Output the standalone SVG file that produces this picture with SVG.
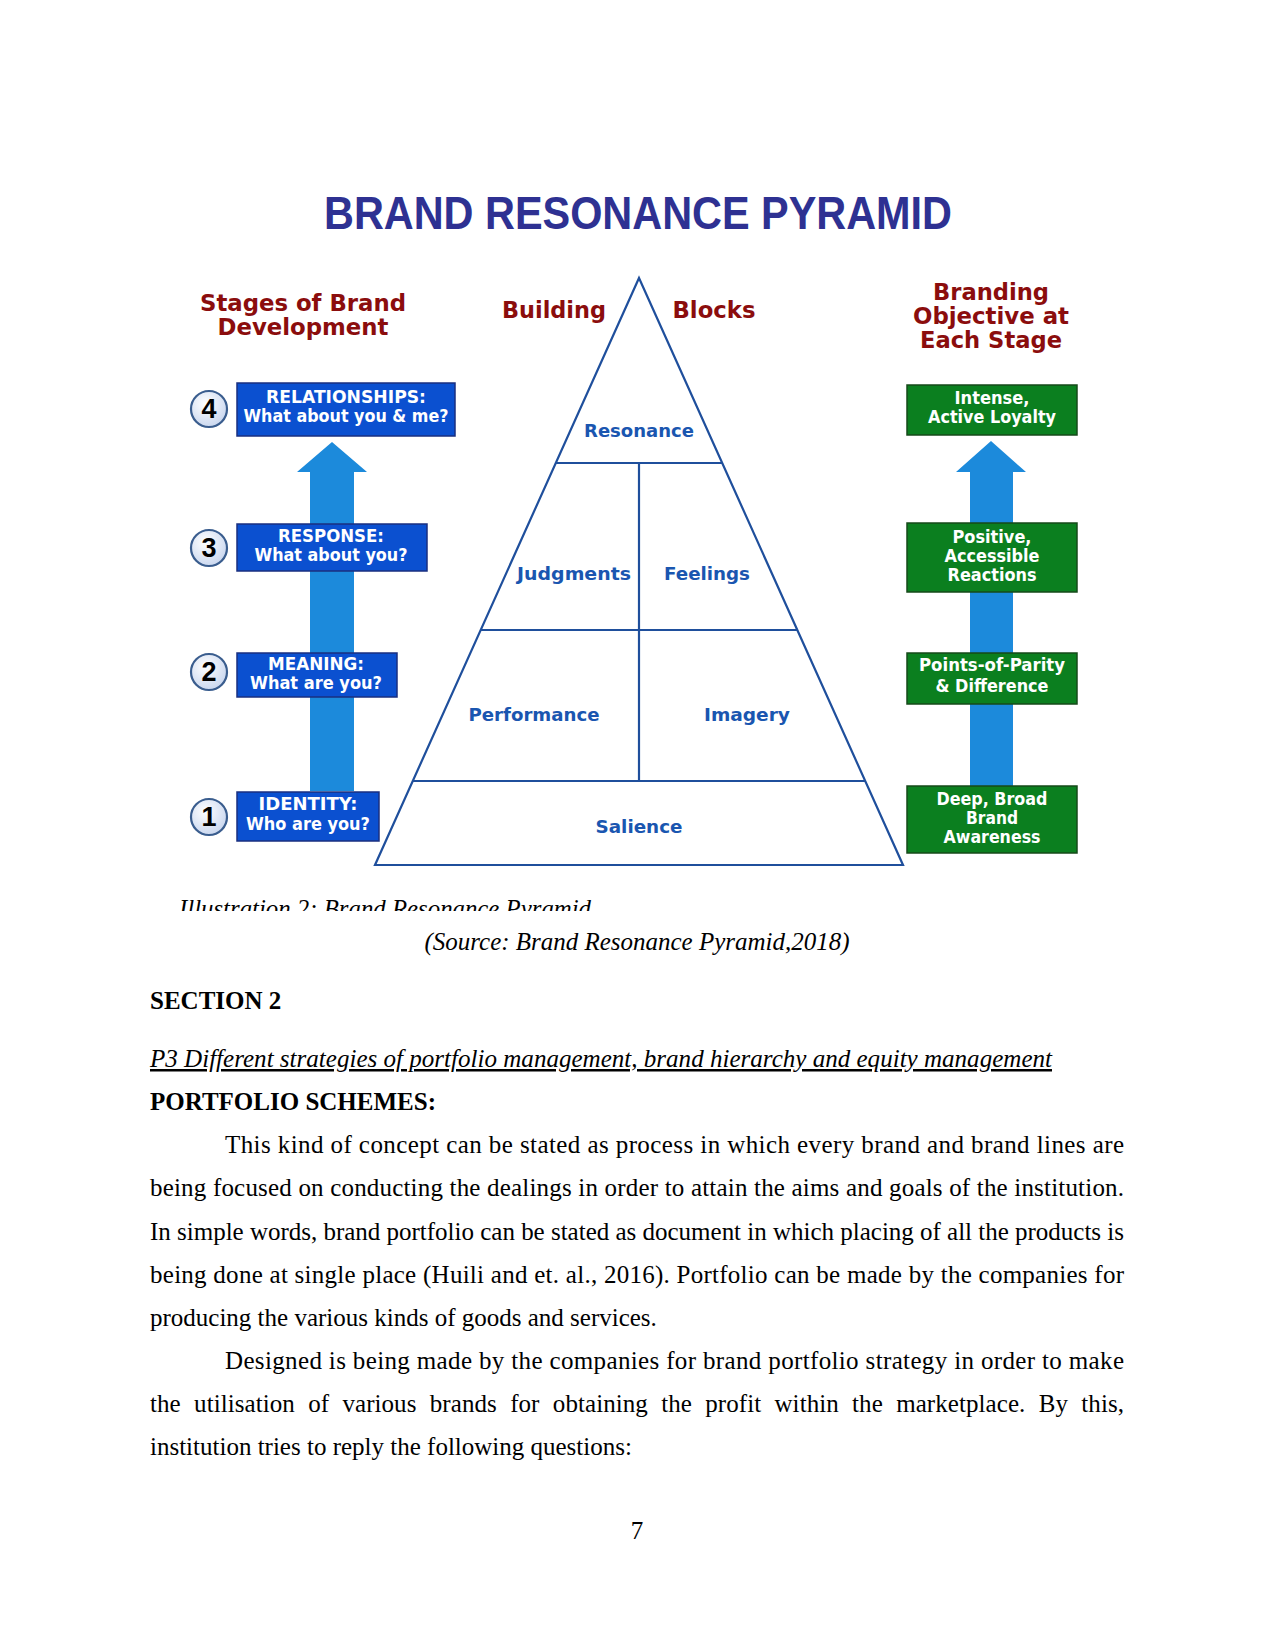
<svg xmlns="http://www.w3.org/2000/svg" width="1275" height="1650" viewBox="0 0 1275 1650">
<defs>
<radialGradient id="cg" cx="0.4" cy="0.35" r="0.7">
<stop offset="0" stop-color="#ffffff"/>
<stop offset="1" stop-color="#c7d5ee"/>
</radialGradient>
<clipPath id="capclip"><rect x="0" y="880" width="1275" height="31"/></clipPath>
</defs>
<style>
.title{font-family:"Liberation Sans",Arial,sans-serif;font-weight:bold;font-size:46px;fill:#2e3192}
.hdr{font-family:"DejaVu Sans",Verdana,sans-serif;font-weight:bold;font-size:23px;fill:#8b0d0d}
.lvl{font-family:"DejaVu Sans",Verdana,sans-serif;font-weight:bold;font-size:17px;fill:#1a56b0}
.bx{font-family:"DejaVu Sans",Verdana,sans-serif;font-weight:bold;font-size:17px;fill:#ffffff}
.blue{fill:#0b50d0;stroke:#1a2f80;stroke-width:1.5}
.green{fill:#0b7f1f;stroke:#164a1a;stroke-width:1.5}
.circ{fill:url(#cg);stroke:#3a5d8e;stroke-width:2.2}
.num{font-family:"Liberation Sans",Arial,sans-serif;font-weight:bold;font-size:27px;fill:#000}
.pyr{fill:none;stroke:#1f4f9c;stroke-width:2.2}
.arrow{fill:#1c8adb}
.body{font-family:"Liberation Serif","Times New Roman",serif;font-size:25px;fill:#000}
</style>
<rect width="1275" height="1650" fill="#ffffff"/>

<text class="title" x="638" y="229" text-anchor="middle" textLength="628" lengthAdjust="spacingAndGlyphs">BRAND RESONANCE PYRAMID</text>

<g id="headers">
<text class="hdr" x="303" y="311" text-anchor="middle" textLength="206" lengthAdjust="spacingAndGlyphs">Stages of Brand</text>
<text class="hdr" x="303" y="335" text-anchor="middle" textLength="171" lengthAdjust="spacingAndGlyphs">Development</text>
<text class="hdr" x="554" y="318" text-anchor="middle" textLength="104" lengthAdjust="spacingAndGlyphs">Building</text>
<text class="hdr" x="714" y="318" text-anchor="middle" textLength="83" lengthAdjust="spacingAndGlyphs">Blocks</text>
<text class="hdr" x="991" y="300" text-anchor="middle" textLength="116" lengthAdjust="spacingAndGlyphs">Branding</text>
<text class="hdr" x="991" y="324" text-anchor="middle" textLength="156" lengthAdjust="spacingAndGlyphs">Objective at</text>
<text class="hdr" x="991" y="348" text-anchor="middle" textLength="142" lengthAdjust="spacingAndGlyphs">Each Stage</text>
</g>

<g id="connectors">
<path class="arrow" d="M310,791 L310,472 L297,472 L332,442 L367,472 L354,472 L354,791 Z"/>
<path class="arrow" d="M970,786 L970,472 L956,472 L991,441 L1026,472 L1013,472 L1013,786 Z"/>
</g>

<g id="pyramid">
<path class="pyr" d="M639,278 L903,865 L375,865 Z"/>
<line class="pyr" x1="556" y1="463" x2="722" y2="463"/>
<line class="pyr" x1="481" y1="630" x2="797" y2="630"/>
<line class="pyr" x1="413" y1="781" x2="865" y2="781"/>
<line class="pyr" x1="639" y1="463" x2="639" y2="781"/>
</g>
<g id="resonance"><text class="lvl" x="639" y="437" text-anchor="middle" textLength="110" lengthAdjust="spacingAndGlyphs">Resonance</text></g>
<g id="judgments"><text class="lvl" x="574" y="580" text-anchor="middle" textLength="114" lengthAdjust="spacingAndGlyphs">Judgments</text></g>
<g id="feelings"><text class="lvl" x="707" y="580" text-anchor="middle" textLength="86" lengthAdjust="spacingAndGlyphs">Feelings</text></g>
<g id="performance"><text class="lvl" x="534" y="721" text-anchor="middle" textLength="131" lengthAdjust="spacingAndGlyphs">Performance</text></g>
<g id="imagery"><text class="lvl" x="747" y="721" text-anchor="middle" textLength="86" lengthAdjust="spacingAndGlyphs">Imagery</text></g>
<g id="salience"><text class="lvl" x="639" y="833" text-anchor="middle" textLength="87" lengthAdjust="spacingAndGlyphs">Salience</text></g>

<g id="stage4">
<circle class="circ" cx="209" cy="409" r="18"/>
<text class="num" x="209" y="418" text-anchor="middle">4</text>
<rect class="blue" x="237" y="383" width="218" height="53"/>
<text class="bx" x="346" y="403" text-anchor="middle" textLength="160" lengthAdjust="spacingAndGlyphs">RELATIONSHIPS:</text>
<text class="bx" x="346" y="422" text-anchor="middle" textLength="205" lengthAdjust="spacingAndGlyphs">What about you &amp; me?</text>
</g>
<g id="stage3">
<circle class="circ" cx="209" cy="548" r="18"/>
<text class="num" x="209" y="557" text-anchor="middle">3</text>
<rect class="blue" x="237" y="524" width="190" height="47"/>
<text class="bx" x="331" y="542" text-anchor="middle" textLength="106" lengthAdjust="spacingAndGlyphs">RESPONSE:</text>
<text class="bx" x="331" y="561" text-anchor="middle" textLength="153" lengthAdjust="spacingAndGlyphs">What about you?</text>
</g>
<g id="stage2">
<circle class="circ" cx="209" cy="672" r="18"/>
<text class="num" x="209" y="681" text-anchor="middle">2</text>
<rect class="blue" x="237" y="653" width="160" height="44"/>
<text class="bx" x="316" y="670" text-anchor="middle" textLength="96" lengthAdjust="spacingAndGlyphs">MEANING:</text>
<text class="bx" x="316" y="689" text-anchor="middle" textLength="132" lengthAdjust="spacingAndGlyphs">What are you?</text>
</g>
<g id="stage1">
<circle class="circ" cx="209" cy="817" r="18"/>
<text class="num" x="209" y="826" text-anchor="middle">1</text>
<rect class="blue" x="237" y="792" width="142" height="49"/>
<text class="bx" x="308" y="810" text-anchor="middle" textLength="99" lengthAdjust="spacingAndGlyphs">IDENTITY:</text>
<text class="bx" x="308" y="830" text-anchor="middle" textLength="124" lengthAdjust="spacingAndGlyphs">Who are you?</text>
</g>

<g id="objective4">
<rect class="green" x="907" y="385" width="170" height="50"/>
<text class="bx" x="992" y="404" text-anchor="middle" textLength="75" lengthAdjust="spacingAndGlyphs">Intense,</text>
<text class="bx" x="992" y="423" text-anchor="middle" textLength="128" lengthAdjust="spacingAndGlyphs">Active Loyalty</text>
</g>
<g id="objective3">
<rect class="green" x="907" y="523" width="170" height="69"/>
<text class="bx" x="992" y="543" text-anchor="middle" textLength="79" lengthAdjust="spacingAndGlyphs">Positive,</text>
<text class="bx" x="992" y="562" text-anchor="middle" textLength="95" lengthAdjust="spacingAndGlyphs">Accessible</text>
<text class="bx" x="992" y="581" text-anchor="middle" textLength="89" lengthAdjust="spacingAndGlyphs">Reactions</text>
</g>
<g id="objective2">
<rect class="green" x="907" y="653" width="170" height="51"/>
<text class="bx" x="992" y="671" text-anchor="middle" textLength="146" lengthAdjust="spacingAndGlyphs">Points-of-Parity</text>
<text class="bx" x="992" y="692" text-anchor="middle" textLength="113" lengthAdjust="spacingAndGlyphs">&amp; Difference</text>
</g>
<g id="objective1">
<rect class="green" x="907" y="786" width="170" height="67"/>
<text class="bx" x="992" y="805" text-anchor="middle" textLength="111" lengthAdjust="spacingAndGlyphs">Deep, Broad</text>
<text class="bx" x="992" y="824" text-anchor="middle" textLength="52" lengthAdjust="spacingAndGlyphs">Brand</text>
<text class="bx" x="992" y="843" text-anchor="middle" textLength="97" lengthAdjust="spacingAndGlyphs">Awareness</text>
</g>

<g clip-path="url(#capclip)">
<text class="body" x="179" y="917" font-style="italic" fill="#222" textLength="412" lengthAdjust="spacingAndGlyphs">Illustration 2: Brand Resonance Pyramid</text>
</g>

<text class="body" x="637" y="950" text-anchor="middle" font-style="italic" textLength="425" lengthAdjust="spacingAndGlyphs">(Source: Brand Resonance Pyramid,2018)</text>
<text class="body" x="150" y="1009" font-weight="bold" font-size="29">SECTION 2</text>
<text class="body" x="150" y="1067" font-style="italic" text-decoration="underline" textLength="902" lengthAdjust="spacingAndGlyphs">P3 Different strategies of portfolio management, brand hierarchy and equity management</text>
<text class="body" x="150" y="1110" font-weight="bold">PORTFOLIO SCHEMES:</text>

<text class="body" x="225" y="1153" textLength="899" lengthAdjust="spacing">This kind of concept can be stated as process in which every brand and brand lines are</text>
<text class="body" x="150" y="1196" textLength="974" lengthAdjust="spacing">being focused on conducting the dealings in order to attain the aims and goals of the institution.</text>
<text class="body" x="150" y="1240" textLength="974" lengthAdjust="spacing">In simple words, brand portfolio can be stated as document in which placing of all the products is</text>
<text class="body" x="150" y="1283" textLength="974" lengthAdjust="spacing">being done at single place (Huili and et. al., 2016). Portfolio can be made by the companies for</text>
<text class="body" x="150" y="1326">producing the various kinds of goods and services.</text>
<text class="body" x="225" y="1369" textLength="899" lengthAdjust="spacing">Designed is being made by the companies for brand portfolio strategy in order to make</text>
<text class="body" x="150" y="1412" word-spacing="7" textLength="974" lengthAdjust="spacing">the utilisation of various brands for obtaining the profit within the marketplace. By this,</text>
<text class="body" x="150" y="1455">institution tries to reply the following questions:</text>

<text class="body" x="637" y="1539" text-anchor="middle">7</text>
</svg>
